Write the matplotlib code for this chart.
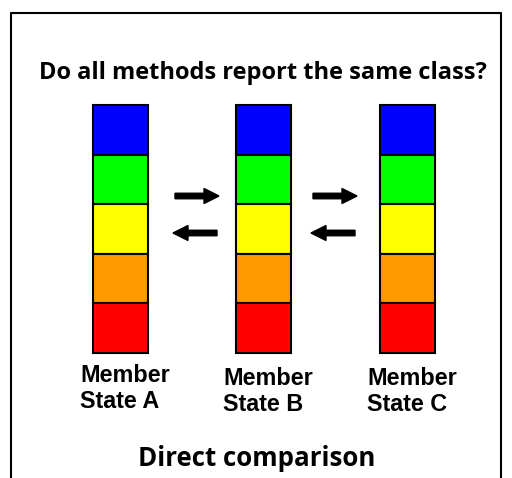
import matplotlib
matplotlib.use("Agg")
import matplotlib.pyplot as plt
from matplotlib.patches import Rectangle, FancyArrow

title = "Do all methods report the same class?"
footer = "Direct comparison"
members = ["Member\nState A", "Member\nState B", "Member\nState C"]
class_colors = ["#0000FF", "#00FF00", "#FFFF00", "#FF9900", "#FF0000"]  # top to bottom

fig = plt.figure(figsize=(5.12, 4.78), dpi=100)
ax = fig.add_axes([0, 0, 1, 1])
ax.set_xlim(0, 512)
ax.set_ylim(478, 0)
ax.axis("off")

# frame (open at the bottom)
ax.plot([11, 11, 501, 501], [478, 13, 13, 478], color="black", lw=1.5, solid_capstyle="butt")

ax.text(263, 73, title, ha="center", va="center", fontsize=17.0, fontweight="bold",
        family="Open Sans")

col_x = [93, 236, 380]
col_w = 55
top = 105
box_h = 49.6
for i, name in enumerate(members):
    x0 = col_x[i]
    for j, c in enumerate(class_colors):
        ax.add_patch(Rectangle((x0, top + j * box_h), col_w, box_h, facecolor=c,
                               edgecolor="black", lw=1.5))
    ty = 364 if i == 0 else 367
    ax.text(x0 - 13, ty, name, ha="left", va="top", fontsize=16.8, fontweight="bold",
            family="Liberation Sans", linespacing=1.17)

# arrows between columns
for xs in [(175, 219), (313, 357)]:
    a, b = xs
    ax.add_patch(FancyArrow(a, 196, b - a, 0, width=5.5, head_width=15, head_length=15,
                            length_includes_head=True, color="black"))
    ax.add_patch(FancyArrow(b - 2, 233, -(b - a), 0, width=5.5, head_width=15, head_length=15,
                            length_includes_head=True, color="black"))

ax.text(257, 458, footer, ha="center", va="center", fontsize=18.6, fontweight="bold",
        family="Open Sans")

fig.savefig("out.png", dpi=100)
